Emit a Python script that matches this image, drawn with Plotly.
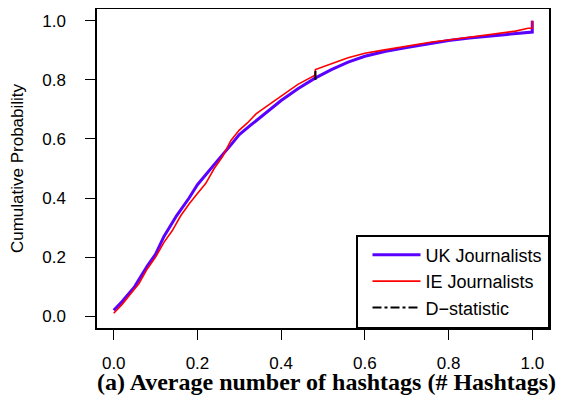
import plotly.graph_objects as go

uk_x = [0.0, 0.02, 0.05, 0.08, 0.10, 0.12, 0.15, 0.18, 0.20, 0.22, 0.25, 0.28, 0.30,
        0.33, 0.36, 0.40, 0.44, 0.48, 0.52, 0.56, 0.60, 0.65, 0.70, 0.75, 0.80,
        0.85, 0.90, 0.95, 1.0, 1.0]
uk_y = [0.02, 0.05, 0.10, 0.17, 0.21, 0.27, 0.34, 0.40, 0.445, 0.48, 0.53, 0.58, 0.615,
        0.65, 0.685, 0.73, 0.77, 0.805, 0.835, 0.86, 0.88, 0.897, 0.91, 0.922, 0.933,
        0.942, 0.948, 0.954, 0.962, 1.0]

ie_x = [0.0, 0.02, 0.04, 0.06, 0.08, 0.10, 0.12, 0.14, 0.16, 0.18, 0.20, 0.22, 0.24,
        0.26, 0.28, 0.30, 0.32, 0.34, 0.36, 0.38, 0.40, 0.42, 0.44, 0.46, 0.48,
        0.482, 0.50, 0.53, 0.56, 0.60, 0.64, 0.68, 0.72, 0.76, 0.80, 0.84, 0.88,
        0.92, 0.96, 0.99, 1.0, 1.0]
ie_y = [0.01, 0.04, 0.075, 0.11, 0.16, 0.20, 0.25, 0.29, 0.34, 0.38, 0.415, 0.45, 0.50,
        0.54, 0.595, 0.63, 0.655, 0.685, 0.705, 0.725, 0.745, 0.765, 0.785, 0.80, 0.815,
        0.835, 0.845, 0.86, 0.875, 0.89, 0.90, 0.91, 0.92, 0.928, 0.935, 0.942, 0.95,
        0.957, 0.965, 0.975, 0.975, 1.0]

# location of the KS D-statistic
d_x = [0.482, 0.482]
d_y = [0.80, 0.84]

ticks = [0.0, 0.2, 0.4, 0.6, 0.8, 1.0]
tick_text = ['0.0', '0.2', '0.4', '0.6', '0.8', '1.0']

fig = go.Figure()
fig.add_trace(go.Scatter(x=uk_x, y=uk_y, mode='lines', name='UK Journalists',
                         line=dict(color='#5a00ff', width=3)))
fig.add_trace(go.Scatter(x=ie_x, y=ie_y, mode='lines', name='IE Journalists',
                         line=dict(color='#ff0000', width=1.6)))
fig.add_trace(go.Scatter(x=d_x, y=d_y, mode='lines', name='D\u2212statistic',
                         line=dict(color='black', width=2, dash='dashdot')))

axis_style = dict(
    showgrid=False, zeroline=False, automargin=False,
    showline=True, linecolor='black', linewidth=1.5, mirror=True,
    ticks='outside', ticklen=10, tickwidth=1.2, tickcolor='black',
    tickvals=ticks, ticktext=tick_text,
    tickfont=dict(family='Liberation Sans, Arial', size=17, color='black'),
)

fig.update_xaxes(axis_style, range=[-0.04, 1.04], ticklabelstandoff=9)
fig.update_yaxes(axis_style, range=[-0.04, 1.04], ticklabelstandoff=16,
                 title=dict(text='Cumulative Probability',
                            font=dict(family='Liberation Sans, Arial', size=17,
                                      color='black'),
                            standoff=20))

fig.add_annotation(
    text='<b>(a) Average number of hashtags (# Hashtags)</b>',
    xref='paper', yref='paper', x=0.508, y=-0.17, xanchor='center', yanchor='middle',
    showarrow=False,
    font=dict(family='Liberation Serif, Times New Roman', size=24, color='black'),
)

# page body has an 8px margin, so the figure is drawn 8px smaller
fig.update_layout(
    width=561, height=395,
    template='plotly_white',
    plot_bgcolor='white', paper_bgcolor='white',
    margin=dict(l=89, r=20, t=1, b=75),
    legend=dict(x=1, y=0, xanchor='right', yanchor='bottom',
                bordercolor='black', borderwidth=1.5, bgcolor='white',
                font=dict(family='Liberation Sans, Arial', size=18, color='black'),
                itemwidth=48, indentation=10, tracegroupgap=0),
    showlegend=True,
)

fig.write_html('out.html')
